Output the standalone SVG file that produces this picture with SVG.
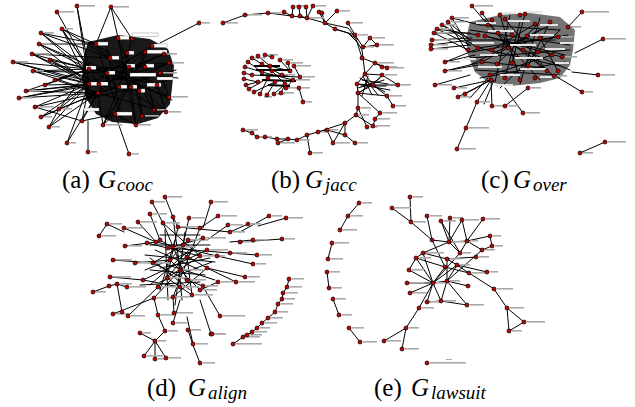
<svg xmlns="http://www.w3.org/2000/svg" width="635" height="407" viewBox="0 0 635 407">
<style>
.e{stroke:#000;stroke-width:1;fill:none;stroke-linecap:round}
.t{stroke:#000;stroke-width:2;fill:none}
.core{fill:#000}
.n circle{fill:#c80000;stroke:#000;stroke-width:.7}
.l rect{fill:#aaa}
.w rect{fill:#fff;stroke:#555;stroke-width:.3}
.wc rect{fill:#e4e4e4}
.cap{font-family:"Liberation Serif","DejaVu Serif",serif;font-size:25px;fill:#000}
.gi{font-style:italic}
.sb{font-family:"Liberation Serif","DejaVu Serif",serif;font-size:19px;font-style:italic;fill:#000}
</style>
<rect width="635" height="407" fill="#fff"/>

<g id="connectors">
<!-- panel a -->
<path class="core" opacity="0.9" d="M88,42 L118,35 L150,39 L168,49 L174,66 L172,88 L170,104 L158,118 L138,124 L112,122 L96,114 L86,98 L82,78 L84,56 Z"/>
<path class="e" d="M57,12L89,69 M77,6L89,69 M77,6L89,84 M111,7L96,44 M111,7L118,38 M111,7L132,39 M199,23L160,43
M62,29L89,69 M62,29L89,84 M62,29L96,44 M62,29L99,84 M62,29L110,58
M41,33L89,69 M41,33L96,44 M41,33L110,58 M41,33L99,84
M39,44L89,69 M39,44L89,84 M39,44L107,73 M39,44L96,44
M32,54L89,69 M32,54L110,58 M32,54L89,84 M32,54L99,84
M13,62L89,69 M13,62L89,84 M13,62L99,84
M33,71L89,69 M33,71L89,84 M33,71L98,93 M33,71L107,73
M50,60L89,69 M50,60L89,84 M50,60L99,84 M55,80L89,69 M55,80L98,93 M45,85L89,84 M45,85L89,69
M26,91L89,84 M26,91L98,93 M26,91L89,69 M26,91L99,84
M19,98L89,84 M19,98L99,84 M19,98L98,93
M35,107L89,84 M35,107L98,93 M35,107L82,121
M41,117L89,84 M41,117L98,93 M41,117L59,109
M49,127L89,84 M49,127L59,109 M49,127L98,93
M59,109L89,84 M59,109L89,69 M59,109L98,93
M67,143L89,84 M67,143L98,93 M88,152L88,121 M129,154L115,114
M82,121L89,84 M82,121L98,93 M82,121L115,114 M103,125L98,93 M103,125L115,114 M103,125L119,87
M136,125L131,87 M136,125L115,114 M142,116L139,91 M154,110L145,67 M166,112L157,85 M169,97L160,73
M89,69L145,67 M89,69L129,67 M89,69L157,85 M89,69L169,63 M89,84L160,73 M89,84L139,91 M99,84L164,54 M107,73L152,46 M110,58L166,112 M127,53L142,116 M129,67L154,110 M145,52L98,93 M96,44L169,97 M118,38L136,125 M132,39L119,87 M152,46L103,125 M164,54L89,84 M169,63L99,84 M160,73L98,93 M157,85L110,58 M119,87L169,63 M131,87L96,44 M139,91L118,38 M98,93L166,112 M115,114L145,52 M89,69L166,112 M89,84L152,46 M107,73L169,97 M127,53L98,93
M96,44L118,110 M105,40L122,120 M82,100L170,80 M84,60L172,100 M89,69L178,78 M98,93L176,70"/>
<!-- panel b -->
<path class="e" d="M223,23L245,15L268,13L292,16L307,18L325,23L335,29L348,33L355,38L362,50L363,58L365,74
M348,33L357,42L362,58 M335,29L355,35L363,47 M325,23L348,28L358,40
M365,74L357,84 M365,74L373,85 M365,74L382,75 M357,84L373,85 M357,84L358,93 M358,93L373,85 M358,93L387,96 M373,85L398,85 M373,85L382,75 M382,75L398,85 M387,96L393,106 M387,96L373,85 M358,93L380,113 M380,113L375,119 M373,126L375,119 M358,93L358,108 M358,108L356,115 M356,115L345,123 M345,123L333,143 M345,123L345,135 M345,135L355,143 M358,108L367,127 M356,115L373,126
M243,130L252,133L257,137L265,137L277,139L288,139L297,140L307,135L318,132L327,130L333,143 M307,135L310,153 M318,132L345,123 M327,130L345,135 M278,143L288,139
M292,16L293,7 M299,7L300,16 M306,7L307,18 M313,6L307,18 M319,12L325,23 M322,13L325,23 M337,11L325,23 M284,12L292,16 M300,16L307,18 M348,23L355,35 M370,38L377,45 M370,38L363,47 M377,45L363,47 M362,58L375,63 M375,63L382,67 M375,63L387,68 M365,74L375,63
M360,78L385,92 M362,80L388,84 M358,88L384,80 M360,92L380,78 M363,76L372,95 M368,76L362,96 M357,84L390,90 M366,80L378,95 M361,86L386,86
M303,102L299,88 M252,58L262,64 M258,56L270,66 M265,55L272,57 M248,62L262,72 M245,67L262,72 M244,73L252,75 M244,79L258,82 M246,85L258,82 M249,89L268,78 M254,92L275,82 M260,94L268,78 M267,95L275,82 M274,94L285,84 M281,93L285,84 M286,88L293,80 M280,60L290,71 M288,63L290,71 M294,66L300,77 M262,64L282,75 M270,66L290,71 M252,75L300,77 M262,72L293,80 M272,71L285,84"/>
<path class="t" d="M256,70L292,70 M260,75L288,76 M262,80L296,81 M268,85L290,86 M254,66L280,66"/>
<!-- panel c -->
<path class="core" opacity="0.55" d="M470,22 L500,15 L530,13 L560,17 L575,30 L573,50 L570,65 L560,78 L540,83 L510,86 L488,82 L475,72 L468,55 L466,38 Z"/>
<path class="e" d="M431,49L470,45 M431,45L470,40 M432,40L472,38 M434,33L470,33 M437,29L470,45 M442,25L478,48 M448,22L470,40 M452,18L480,25 M445,62L475,55 M445,71L478,65 M435,85L470,75 M452,18L468,45 M448,22L466,50 M442,25L468,38 M437,29L478,35 M434,33L468,50 M445,62L480,48 M445,71L482,62
M491,80L454,88 M491,80L458,97 M491,80L465,94 M491,80L477,102 M491,80L492,106 M488,78L470,98 M494,80L484,104 M505,106L528,88 M523,113L505,88 M466,128L477,102 M457,149L466,128
M472,6L488,25 M582,12L568,27 M603,39L575,53 M598,75L572,72 M582,92L557,77 M605,142L580,153
M480,25L560,30 M485,36L565,55 M478,48L560,66 M482,62L545,68 M490,75L552,55 M497,64L538,24 M505,19L545,68 M520,22L505,78 M535,24L492,50 M548,26L482,62 M560,30L500,88 M470,40L555,40 M470,58L570,50 M475,70L560,75 M500,15L520,80 M525,14L512,63 M550,22L528,66 M482,13L508,48 M558,37L478,48 M562,57L485,36 M554,76L523,50 M547,71L498,33 M558,71L540,38
M470,30L570,45 M472,52L568,35 M480,78L565,62 M485,20L540,80 M510,15L495,82 M540,18L520,84 M470,65L540,30 M500,40L570,70"/>
<!-- panel d -->
<path class="e" d="M165,197L173,217 M152,202L163,223 M211,202L203,228 M107,224L124,232 M99,236L107,224 M138,222L156,242 M150,214L160,240 M189,218L183,245 M218,216L200,228 M228,225L207,240 M248,224L230,232 M269,216L240,232 M286,218L258,226 M282,239L240,242 M257,255L230,253 M253,240L230,242 M124,228L156,242 M125,246L156,242 M113,260L153,263 M135,263L170,260 M110,277L143,280 M117,284L127,287 M93,292L109,286 M109,286L117,284 M117,284L122,312 M113,314L154,298 M128,316L158,287 M140,333L155,341 M144,356L155,341 M155,359L155,341 M166,358L155,341 M155,341L165,331 M165,331L158,315 M173,323L180,300 M193,344L187,317 M188,330L193,345 M193,345L200,363 M211,334L200,300 M220,316L205,290 M203,286L187,280 M218,282L200,290 M236,282L207,268 M245,277L207,268 M253,264L217,256 M174,313L173,297 M158,315L154,298
M163,223L187,280 M178,227L167,278 M173,217L180,270 M160,240L207,268 M147,243L200,256 M156,242L217,256 M168,248L230,253 M173,247L203,238 M183,245L153,263 M188,240L170,260 M200,228L173,297 M203,238L158,287 M207,250L143,280 M187,257L192,295 M170,260L200,290 M180,270L154,298 M153,263L187,280 M200,256L167,278 M207,268L173,297 M163,223L200,256 M178,227L230,232 M150,245L210,245 M145,255L215,262 M150,270L205,275 M140,285L200,282 M160,235L200,235 M143,280L180,287 M167,278L192,295 M173,217L178,227 M165,230L168,300 M185,232L175,305
M155,250L200,270 M160,268L210,258 M150,258L190,290 M175,240L160,290 M195,245L150,285 M168,265L215,280 M145,270L195,250 M178,255L182,300 M160,282L212,262
M289,279L287,287L283,293L282,299L278,304L275,312L268,318L262,323L257,328L252,332L247,335L243,337L233,344"/>
<!-- panel e -->
<path class="e" d="M359,203L348,216L340,230 M332,243L328,259 M327,272L329,288 M333,299L339,315 M349,328L360,342
M410,197L411,222 M392,208L411,222 M411,222L432,240 M427,216L432,240 M432,240L449,242 M441,221L449,242 M450,218L449,242 M449,242L460,253 M462,220L449,242 M483,219L467,241 M467,241L460,253 M467,241L490,236 M490,236L492,246 M492,246L482,250 M467,241L482,250 M449,242L467,241 M423,253L416,258 M416,258L409,270 M423,253L447,259 M416,258L445,267 M432,240L445,267 M447,259L476,257 M447,259L457,265 M457,265L469,273 M457,265L487,272 M445,267L469,273 M433,283L416,258 M433,283L409,270 M433,283L423,253 M433,283L445,267 M433,283L447,281 M433,283L427,302 M433,283L441,301 M433,283L407,283 M433,283L410,293 M433,283L457,265 M447,281L447,259 M447,281L441,301 M447,281L467,305 M447,281L457,265 M427,302L441,301 M441,301L467,305 M433,283L419,308 M419,308L406,328 M406,328L384,341 M406,328L402,349 M460,253L433,283 M482,250L447,281 M469,273L494,289 M494,289L507,308 M507,308L524,322 M507,308L509,331 M524,322L509,331 M468,286L447,281 M423,253L449,242 M441,221L460,253 M462,220L467,241"/>
</g>

<g id="panel-a">
<g class="w">
<rect x="86" y="66" width="10" height="3.5"/><rect x="107" y="71" width="8" height="3.5"/><rect x="110" y="56" width="9" height="3.5"/><rect x="128" y="51" width="6" height="3.5"/><rect x="127" y="64" width="8" height="3.5"/><rect x="146" y="64" width="8" height="3.5"/><rect x="147" y="50" width="20" height="3.5"/><rect x="130" y="73" width="26" height="3.5"/><rect x="90" y="82" width="7" height="3.5"/><rect x="100" y="82" width="8" height="3.5"/><rect x="120" y="85" width="7" height="3.5"/><rect x="132" y="85" width="5" height="3.5"/><rect x="140" y="89" width="5" height="3.5"/><rect x="116" y="112" width="16" height="3.5"/><rect x="147" y="83" width="14" height="3.5"/><rect x="157" y="77" width="16" height="3"/><rect x="96" y="42" width="12" height="3.5"/><rect x="118" y="36" width="11" height="3.5"/><rect x="132" y="33" width="26" height="3.5"/><rect x="151" y="44" width="16" height="3.5"/><rect x="84" y="108" width="15" height="3"/>
</g>
<g class="l">
<rect x="60" y="11" width="14" height="1.6"/><rect x="80" y="5" width="15" height="1.6"/><rect x="114" y="6" width="15" height="1.6"/><rect x="202" y="22" width="8" height="1.6"/><rect x="65" y="28" width="8" height="1.6"/><rect x="44" y="32" width="10" height="1.6"/><rect x="42" y="43" width="9" height="1.6"/><rect x="35" y="53" width="14" height="1.6"/><rect x="16" y="61" width="12" height="1.6"/><rect x="36" y="70" width="8" height="1.6"/><rect x="29" y="90" width="12" height="1.6"/><rect x="22" y="97" width="10" height="1.6"/><rect x="38" y="106" width="16" height="1.6"/><rect x="44" y="116" width="8" height="1.6"/><rect x="52" y="126" width="8" height="1.6"/><rect x="62" y="108" width="10" height="1.6"/><rect x="70" y="142" width="6" height="1.6"/><rect x="91" y="151" width="6" height="1.6"/><rect x="132" y="153" width="7" height="1.6"/><rect x="139" y="124" width="12" height="1.6"/><rect x="145" y="115" width="14" height="1.6"/><rect x="157" y="109" width="10" height="1.6"/><rect x="169" y="111" width="12" height="1.6"/><rect x="172" y="96" width="16" height="1.6"/><rect x="163" y="72" width="14" height="1.6"/><rect x="172" y="62" width="12" height="1.6"/><rect x="167" y="53" width="10" height="1.6"/><rect x="106" y="124" width="16" height="1.6"/>
</g>
<g class="n">
<circle cx="89" cy="69" r="2"/><circle cx="107" cy="73" r="2"/><circle cx="110" cy="58" r="2"/><circle cx="127" cy="53" r="2"/><circle cx="129" cy="67" r="2"/><circle cx="145" cy="67" r="2"/><circle cx="145" cy="52" r="2"/><circle cx="89" cy="84" r="2"/><circle cx="99" cy="84" r="2"/><circle cx="119" cy="87" r="2"/><circle cx="131" cy="87" r="2"/><circle cx="139" cy="91" r="2"/><circle cx="98" cy="93" r="2"/><circle cx="115" cy="114" r="2"/><circle cx="132" cy="39" r="2"/><circle cx="96" cy="44" r="2"/><circle cx="152" cy="46" r="2"/><circle cx="164" cy="54" r="2"/><circle cx="169" cy="63" r="2"/><circle cx="160" cy="73" r="2"/><circle cx="157" cy="85" r="2"/><circle cx="154" cy="110" r="2"/><circle cx="166" cy="112" r="2"/><circle cx="142" cy="116" r="2"/><circle cx="169" cy="97" r="2"/><circle cx="136" cy="125" r="2"/><circle cx="103" cy="125" r="2"/><circle cx="82" cy="121" r="2"/><circle cx="118" cy="38" r="2"/>
<circle cx="57" cy="12" r="2"/><circle cx="77" cy="6" r="2"/><circle cx="111" cy="7" r="2"/><circle cx="199" cy="23" r="2"/><circle cx="62" cy="29" r="2"/><circle cx="41" cy="33" r="2"/><circle cx="39" cy="44" r="2"/><circle cx="32" cy="54" r="2"/><circle cx="13" cy="62" r="2"/><circle cx="33" cy="71" r="2"/><circle cx="26" cy="91" r="2"/><circle cx="19" cy="98" r="2"/><circle cx="35" cy="107" r="2"/><circle cx="41" cy="117" r="2"/><circle cx="49" cy="127" r="2"/><circle cx="59" cy="109" r="2"/><circle cx="67" cy="143" r="2"/><circle cx="88" cy="152" r="2"/><circle cx="129" cy="154" r="2"/><circle cx="50" cy="60" r="2"/><circle cx="55" cy="80" r="2"/><circle cx="45" cy="85" r="2"/>
</g>
</g>

<g id="panel-b">
<g class="l">
<rect x="226" y="22" width="12" height="1.6"/><rect x="248" y="14" width="14" height="1.6"/><rect x="271" y="12" width="10" height="1.6"/><rect x="296" y="5" width="8" height="1.6"/><rect x="316" y="5" width="10" height="1.6"/><rect x="340" y="10" width="10" height="1.6"/><rect x="310" y="17" width="14" height="1.6"/><rect x="351" y="22" width="12" height="1.6"/><rect x="358" y="34" width="10" height="1.6"/><rect x="373" y="37" width="12" height="1.6"/><rect x="380" y="44" width="14" height="1.6"/><rect x="366" y="46" width="8" height="1.6"/><rect x="378" y="62" width="16" height="1.6"/><rect x="385" y="66" width="12" height="1.6"/><rect x="390" y="67" width="14" height="1.6"/><rect x="401" y="84" width="10" height="1.6"/><rect x="390" y="95" width="12" height="1.6"/><rect x="396" y="105" width="10" height="1.6"/><rect x="383" y="112" width="14" height="1.6"/><rect x="378" y="118" width="12" height="1.6"/><rect x="376" y="125" width="14" height="1.6"/><rect x="370" y="126" width="8" height="1.6"/><rect x="358" y="142" width="10" height="1.6"/><rect x="336" y="142" width="14" height="1.6"/><rect x="313" y="152" width="10" height="1.6"/><rect x="246" y="129" width="12" height="1.6"/><rect x="260" y="136" width="12" height="1.6"/><rect x="281" y="142" width="14" height="1.6"/><rect x="300" y="139" width="10" height="1.6"/><rect x="321" y="131" width="8" height="1.6"/><rect x="330" y="129" width="8" height="1.6"/><rect x="385" y="74" width="12" height="1.6"/><rect x="361" y="107" width="10" height="1.6"/><rect x="359" y="114" width="10" height="1.6"/>
<rect x="255" y="57" width="10" height="1.6"/><rect x="268" y="54" width="10" height="1.6"/><rect x="283" y="59" width="10" height="1.6"/><rect x="291" y="62" width="12" height="1.6"/><rect x="297" y="65" width="14" height="1.6"/><rect x="303" y="76" width="12" height="1.6"/><rect x="296" y="79" width="14" height="1.6"/><rect x="288" y="87" width="12" height="1.6"/><rect x="284" y="92" width="10" height="1.6"/><rect x="277" y="93" width="8" height="1.6"/><rect x="302" y="87" width="8" height="1.6"/><rect x="306" y="101" width="6" height="1.6"/><rect x="285" y="74" width="10" height="1.6"/><rect x="264" y="96" width="8" height="1.6"/>
</g>
<g class="n">
<circle cx="223" cy="23" r="2"/><circle cx="245" cy="15" r="2"/><circle cx="268" cy="13" r="2"/><circle cx="284" cy="12" r="2"/><circle cx="293" cy="7" r="2"/><circle cx="299" cy="7" r="2"/><circle cx="306" cy="7" r="2"/><circle cx="313" cy="6" r="2"/><circle cx="319" cy="12" r="2"/><circle cx="292" cy="16" r="2"/><circle cx="300" cy="16" r="2"/><circle cx="307" cy="18" r="2"/><circle cx="322" cy="13" r="2"/><circle cx="337" cy="11" r="2"/><circle cx="325" cy="23" r="2"/><circle cx="335" cy="29" r="2"/><circle cx="348" cy="23" r="2"/><circle cx="355" cy="35" r="2"/><circle cx="370" cy="38" r="2"/><circle cx="377" cy="45" r="2"/><circle cx="363" cy="47" r="2"/><circle cx="362" cy="58" r="2"/><circle cx="375" cy="63" r="2"/><circle cx="382" cy="67" r="2"/><circle cx="387" cy="68" r="2"/><circle cx="365" cy="74" r="2"/><circle cx="357" cy="84" r="2"/><circle cx="358" cy="93" r="2"/><circle cx="373" cy="85" r="2"/><circle cx="382" cy="75" r="2"/><circle cx="398" cy="85" r="2"/><circle cx="387" cy="96" r="2"/><circle cx="393" cy="106" r="2"/><circle cx="380" cy="113" r="2"/><circle cx="375" cy="119" r="2"/><circle cx="373" cy="126" r="2"/><circle cx="358" cy="108" r="2"/><circle cx="356" cy="115" r="2"/><circle cx="345" cy="123" r="2"/><circle cx="367" cy="127" r="2"/><circle cx="355" cy="143" r="2"/><circle cx="345" cy="135" r="2"/><circle cx="333" cy="143" r="2"/><circle cx="327" cy="130" r="2"/><circle cx="318" cy="132" r="2"/><circle cx="307" cy="135" r="2"/><circle cx="310" cy="153" r="2"/><circle cx="297" cy="140" r="2"/><circle cx="288" cy="139" r="2"/><circle cx="278" cy="143" r="2"/><circle cx="277" cy="139" r="2"/><circle cx="265" cy="137" r="2"/><circle cx="257" cy="137" r="2"/><circle cx="252" cy="133" r="2"/><circle cx="243" cy="130" r="2"/>
<circle cx="252" cy="58" r="2"/><circle cx="258" cy="56" r="2"/><circle cx="265" cy="55" r="2"/><circle cx="272" cy="57" r="2"/><circle cx="248" cy="62" r="2"/><circle cx="245" cy="67" r="2"/><circle cx="244" cy="73" r="2"/><circle cx="244" cy="79" r="2"/><circle cx="246" cy="85" r="2"/><circle cx="249" cy="89" r="2"/><circle cx="254" cy="92" r="2"/><circle cx="260" cy="94" r="2"/><circle cx="267" cy="95" r="2"/><circle cx="274" cy="94" r="2"/><circle cx="281" cy="93" r="2"/><circle cx="286" cy="88" r="2"/><circle cx="280" cy="60" r="2"/><circle cx="288" cy="63" r="2"/><circle cx="294" cy="66" r="2"/><circle cx="262" cy="64" r="2"/><circle cx="270" cy="66" r="2"/><circle cx="262" cy="72" r="2"/><circle cx="272" cy="71" r="2"/><circle cx="282" cy="75" r="2"/><circle cx="290" cy="71" r="2"/><circle cx="275" cy="82" r="2"/><circle cx="285" cy="84" r="2"/><circle cx="258" cy="82" r="2"/><circle cx="293" cy="80" r="2"/><circle cx="300" cy="77" r="2"/><circle cx="268" cy="78" r="2"/><circle cx="252" cy="75" r="2"/><circle cx="303" cy="102" r="2"/><circle cx="299" cy="88" r="2"/>
</g>
</g>

<g id="panel-c">
<g class="wc">
<rect x="476" y="22" width="20" height="2"/><rect x="508" y="20" width="22" height="2"/><rect x="540" y="24" width="18" height="2"/><rect x="488" y="30" width="26" height="2"/><rect x="530" y="34" width="24" height="2"/><rect x="472" y="42" width="22" height="2"/><rect x="510" y="44" width="26" height="2"/><rect x="545" y="48" width="20" height="2"/><rect x="480" y="54" width="18" height="2"/><rect x="515" y="57" width="28" height="2"/><rect x="478" y="66" width="24" height="2"/><rect x="520" y="68" width="26" height="2"/><rect x="500" y="74" width="20" height="2"/><rect x="540" y="76" width="16" height="2"/><rect x="495" y="84" width="18" height="2"/><rect x="555" y="62" width="14" height="2"/><rect x="498" y="12" width="18" height="2"/><rect x="525" y="11" width="18" height="2"/><rect x="462" y="58" width="14" height="2"/><rect x="560" y="42" width="14" height="2"/>
</g>
<g class="l">
<rect x="475" y="5" width="18" height="1.6"/><rect x="585" y="11" width="24" height="1.6"/><rect x="606" y="38" width="20" height="1.6"/><rect x="601" y="74" width="14" height="1.6"/><rect x="585" y="91" width="8" height="1.6"/><rect x="526" y="112" width="14" height="1.6"/><rect x="469" y="127" width="20" height="1.6"/><rect x="460" y="148" width="16" height="1.6"/><rect x="608" y="141" width="18" height="1.6"/><rect x="583" y="152" width="10" height="1.6"/><rect x="438" y="84" width="14" height="1.6"/><rect x="434" y="48" width="14" height="1.6"/><rect x="434" y="44" width="14" height="1.6"/><rect x="435" y="39" width="14" height="1.6"/><rect x="437" y="32" width="12" height="1.6"/><rect x="440" y="28" width="12" height="1.6"/><rect x="445" y="24" width="12" height="1.6"/><rect x="451" y="21" width="14" height="1.6"/><rect x="455" y="17" width="14" height="1.6"/><rect x="448" y="61" width="12" height="1.6"/><rect x="448" y="70" width="14" height="1.6"/><rect x="457" y="87" width="10" height="1.6"/><rect x="461" y="96" width="10" height="1.6"/><rect x="480" y="101" width="10" height="1.6"/><rect x="495" y="105" width="12" height="1.6"/><rect x="508" y="105" width="10" height="1.6"/><rect x="531" y="87" width="10" height="1.6"/><rect x="557" y="75" width="10" height="1.6"/><rect x="565" y="56" width="12" height="1.6"/><rect x="561" y="36" width="12" height="1.6"/><rect x="571" y="26" width="10" height="1.6"/>
</g>
<g class="n">
<circle cx="472" cy="6" r="2"/><circle cx="582" cy="12" r="2"/><circle cx="603" cy="39" r="2"/><circle cx="598" cy="75" r="2"/><circle cx="582" cy="92" r="2"/><circle cx="523" cy="113" r="2"/><circle cx="466" cy="128" r="2"/><circle cx="457" cy="149" r="2"/><circle cx="605" cy="142" r="2"/><circle cx="580" cy="153" r="2"/><circle cx="435" cy="85" r="2"/><circle cx="431" cy="49" r="2"/><circle cx="431" cy="45" r="2"/><circle cx="432" cy="40" r="2"/><circle cx="434" cy="33" r="2"/><circle cx="437" cy="29" r="2"/><circle cx="442" cy="25" r="2"/><circle cx="448" cy="22" r="2"/><circle cx="452" cy="18" r="2"/><circle cx="445" cy="62" r="2"/><circle cx="445" cy="71" r="2"/><circle cx="454" cy="88" r="2"/><circle cx="458" cy="97" r="2"/><circle cx="465" cy="94" r="2"/><circle cx="477" cy="102" r="2"/><circle cx="492" cy="106" r="2"/><circle cx="505" cy="106" r="2"/><circle cx="528" cy="88" r="2"/><circle cx="554" cy="76" r="2"/><circle cx="558" cy="71" r="2"/><circle cx="547" cy="71" r="2"/><circle cx="562" cy="57" r="2"/><circle cx="558" cy="37" r="2"/><circle cx="568" cy="27" r="2"/><circle cx="550" cy="22" r="2"/><circle cx="525" cy="14" r="2"/><circle cx="500" cy="15" r="2"/><circle cx="488" cy="25" r="2"/><circle cx="478" cy="35" r="2"/><circle cx="468" cy="50" r="2"/><circle cx="482" cy="13" r="2"/><circle cx="520" cy="15" r="2"/>
<circle cx="492" cy="20" r="2"/><circle cx="505" cy="19" r="2"/><circle cx="535" cy="24" r="2"/><circle cx="485" cy="36" r="2"/><circle cx="498" cy="33" r="2"/><circle cx="512" cy="35" r="2"/><circle cx="527" cy="36" r="2"/><circle cx="540" cy="38" r="2"/><circle cx="478" cy="48" r="2"/><circle cx="492" cy="50" r="2"/><circle cx="508" cy="48" r="2"/><circle cx="523" cy="50" r="2"/><circle cx="538" cy="52" r="2"/><circle cx="552" cy="55" r="2"/><circle cx="482" cy="62" r="2"/><circle cx="497" cy="64" r="2"/><circle cx="512" cy="63" r="2"/><circle cx="528" cy="66" r="2"/><circle cx="490" cy="75" r="2"/><circle cx="505" cy="78" r="2"/><circle cx="520" cy="80" r="2"/><circle cx="535" cy="78" r="2"/><circle cx="491" cy="80" r="2"/>
</g>
</g>

<g id="panel-d">
<g class="l">
<rect x="168" y="196" width="14" height="1.6"/><rect x="155" y="201" width="10" height="1.6"/><rect x="214" y="201" width="14" height="1.6"/><rect x="110" y="223" width="12" height="1.6"/><rect x="102" y="235" width="14" height="1.6"/><rect x="141" y="221" width="16" height="1.6"/><rect x="153" y="213" width="14" height="1.6"/><rect x="192" y="217" width="14" height="1.6"/><rect x="221" y="215" width="16" height="1.6"/><rect x="231" y="224" width="12" height="1.6"/><rect x="251" y="223" width="10" height="1.6"/><rect x="272" y="215" width="10" height="1.6"/><rect x="289" y="217" width="14" height="1.6"/><rect x="285" y="238" width="10" height="1.6"/><rect x="260" y="254" width="12" height="1.6"/><rect x="256" y="239" width="12" height="1.6"/><rect x="127" y="227" width="16" height="1.6"/><rect x="128" y="245" width="14" height="1.6"/><rect x="116" y="259" width="16" height="1.6"/><rect x="138" y="262" width="14" height="1.6"/><rect x="113" y="276" width="18" height="1.6"/><rect x="120" y="283" width="12" height="1.6"/><rect x="96" y="291" width="10" height="1.6"/><rect x="130" y="286" width="16" height="1.6"/><rect x="116" y="313" width="14" height="1.6"/><rect x="131" y="315" width="14" height="1.6"/><rect x="143" y="332" width="8" height="1.6"/><rect x="158" y="340" width="8" height="1.6"/><rect x="168" y="330" width="10" height="1.6"/><rect x="176" y="322" width="12" height="1.6"/><rect x="196" y="343" width="12" height="1.6"/><rect x="214" y="333" width="12" height="1.6"/><rect x="223" y="315" width="22" height="1.6"/><rect x="206" y="285" width="12" height="1.6"/><rect x="221" y="281" width="12" height="1.6"/><rect x="239" y="281" width="16" height="1.6"/><rect x="248" y="276" width="12" height="1.6"/><rect x="256" y="263" width="10" height="1.6"/><rect x="147" y="355" width="16" height="1.6"/><rect x="158" y="358" width="6" height="1.6"/><rect x="169" y="357" width="12" height="1.6"/><rect x="203" y="362" width="12" height="1.6"/><rect x="191" y="329" width="10" height="1.6"/><rect x="215" y="333" width="10" height="1.6"/><rect x="236" y="343" width="26" height="1.6"/><rect x="246" y="336" width="14" height="1.6"/><rect x="250" y="334" width="12" height="1.6"/><rect x="255" y="331" width="12" height="1.6"/><rect x="260" y="327" width="10" height="1.6"/><rect x="265" y="322" width="12" height="1.6"/><rect x="271" y="317" width="12" height="1.6"/><rect x="278" y="311" width="10" height="1.6"/><rect x="281" y="303" width="12" height="1.6"/><rect x="285" y="298" width="10" height="1.6"/><rect x="286" y="292" width="12" height="1.6"/><rect x="290" y="286" width="12" height="1.6"/><rect x="292" y="278" width="12" height="1.6"/>
<rect x="176" y="246" width="20" height="1.6"/><rect x="190" y="239" width="18" height="1.6"/><rect x="206" y="237" width="20" height="1.6"/><rect x="203" y="255" width="22" height="1.6"/><rect x="183" y="269" width="20" height="1.6"/><rect x="170" y="277" width="18" height="1.6"/><rect x="190" y="279" width="16" height="1.6"/><rect x="156" y="262" width="14" height="1.6"/><rect x="161" y="286" width="18" height="1.6"/><rect x="183" y="286" width="16" height="1.6"/><rect x="203" y="289" width="14" height="1.6"/><rect x="157" y="297" width="16" height="1.6"/><rect x="176" y="296" width="14" height="1.6"/><rect x="195" y="294" width="18" height="1.6"/><rect x="177" y="312" width="16" height="1.6"/><rect x="161" y="314" width="12" height="1.6"/><rect x="210" y="249" width="18" height="1.6"/><rect x="233" y="252" width="14" height="1.6"/><rect x="233" y="231" width="12" height="1.6"/><rect x="243" y="241" width="12" height="1.6"/><rect x="181" y="226" width="18" height="1.6"/><rect x="166" y="222" width="14" height="1.6"/>
</g>
<g class="n">
<circle cx="165" cy="197" r="2"/><circle cx="152" cy="202" r="2"/><circle cx="211" cy="202" r="2"/><circle cx="107" cy="224" r="2"/><circle cx="99" cy="236" r="2"/><circle cx="138" cy="222" r="2"/><circle cx="150" cy="214" r="2"/><circle cx="189" cy="218" r="2"/><circle cx="218" cy="216" r="2"/><circle cx="228" cy="225" r="2"/><circle cx="248" cy="224" r="2"/><circle cx="269" cy="216" r="2"/><circle cx="286" cy="218" r="2"/><circle cx="282" cy="239" r="2"/><circle cx="257" cy="255" r="2"/><circle cx="253" cy="240" r="2"/><circle cx="124" cy="228" r="2"/><circle cx="125" cy="246" r="2"/><circle cx="113" cy="260" r="2"/><circle cx="135" cy="263" r="2"/><circle cx="110" cy="277" r="2"/><circle cx="117" cy="284" r="2"/><circle cx="93" cy="292" r="2"/><circle cx="109" cy="286" r="2"/><circle cx="127" cy="287" r="2"/><circle cx="113" cy="314" r="2"/><circle cx="128" cy="316" r="2"/><circle cx="140" cy="333" r="2"/><circle cx="155" cy="341" r="2"/><circle cx="165" cy="331" r="2"/><circle cx="173" cy="323" r="2"/><circle cx="193" cy="344" r="2"/><circle cx="211" cy="334" r="2"/><circle cx="220" cy="316" r="2"/><circle cx="203" cy="286" r="2"/><circle cx="218" cy="282" r="2"/><circle cx="236" cy="282" r="2"/><circle cx="245" cy="277" r="2"/><circle cx="253" cy="264" r="2"/><circle cx="174" cy="313" r="2"/><circle cx="158" cy="315" r="2"/><circle cx="154" cy="298" r="2"/><circle cx="173" cy="297" r="2"/><circle cx="192" cy="295" r="2"/><circle cx="180" cy="270" r="2"/><circle cx="207" cy="268" r="2"/><circle cx="217" cy="256" r="2"/><circle cx="230" cy="253" r="2"/><circle cx="200" cy="256" r="2"/><circle cx="187" cy="257" r="2"/><circle cx="170" cy="260" r="2"/><circle cx="153" cy="263" r="2"/><circle cx="147" cy="243" r="2"/><circle cx="160" cy="240" r="2"/><circle cx="173" cy="247" r="2"/><circle cx="203" cy="238" r="2"/><circle cx="230" cy="232" r="2"/><circle cx="240" cy="242" r="2"/><circle cx="188" cy="240" r="2"/><circle cx="183" cy="245" r="2"/><circle cx="200" cy="228" r="2"/><circle cx="178" cy="227" r="2"/><circle cx="163" cy="223" r="2"/><circle cx="156" cy="242" r="2"/><circle cx="168" cy="248" r="2"/><circle cx="207" cy="250" r="2"/><circle cx="167" cy="278" r="2"/><circle cx="187" cy="280" r="2"/><circle cx="143" cy="280" r="2"/><circle cx="158" cy="287" r="2"/><circle cx="180" cy="287" r="2"/><circle cx="200" cy="290" r="2"/><circle cx="144" cy="356" r="2"/><circle cx="155" cy="359" r="2"/><circle cx="166" cy="358" r="2"/><circle cx="200" cy="363" r="2"/><circle cx="188" cy="330" r="2"/><circle cx="212" cy="334" r="2"/><circle cx="173" cy="217" r="2"/><circle cx="122" cy="312" r="2"/>
<circle cx="289" cy="279" r="2"/><circle cx="287" cy="287" r="2"/><circle cx="283" cy="293" r="2"/><circle cx="282" cy="299" r="2"/><circle cx="278" cy="304" r="2"/><circle cx="275" cy="312" r="2"/><circle cx="268" cy="318" r="2"/><circle cx="262" cy="323" r="2"/><circle cx="257" cy="328" r="2"/><circle cx="252" cy="332" r="2"/><circle cx="247" cy="335" r="2"/><circle cx="243" cy="337" r="2"/><circle cx="233" cy="344" r="2"/>
</g>
</g>

<g id="panel-e">
<g class="l">
<rect x="362" y="202" width="10" height="1.6"/><rect x="351" y="215" width="12" height="1.6"/><rect x="343" y="229" width="14" height="1.6"/><rect x="335" y="242" width="14" height="1.6"/><rect x="331" y="258" width="12" height="1.6"/><rect x="330" y="271" width="10" height="1.6"/><rect x="332" y="287" width="10" height="1.6"/><rect x="336" y="298" width="10" height="1.6"/><rect x="342" y="314" width="10" height="1.6"/><rect x="352" y="327" width="12" height="1.6"/><rect x="363" y="341" width="14" height="1.6"/>
<rect x="413" y="196" width="10" height="1.6"/><rect x="395" y="207" width="16" height="1.6"/><rect x="414" y="221" width="12" height="1.6"/><rect x="430" y="215" width="12" height="1.6"/><rect x="444" y="220" width="12" height="1.6"/><rect x="453" y="217" width="10" height="1.6"/><rect x="465" y="219" width="14" height="1.6"/><rect x="486" y="218" width="14" height="1.6"/><rect x="452" y="241" width="18" height="1.6"/><rect x="470" y="240" width="8" height="1.6"/><rect x="493" y="235" width="8" height="1.6"/><rect x="495" y="245" width="8" height="1.6"/><rect x="485" y="249" width="10" height="1.6"/><rect x="426" y="252" width="18" height="1.6"/><rect x="419" y="257" width="12" height="1.6"/><rect x="412" y="269" width="12" height="1.6"/><rect x="450" y="258" width="10" height="1.6"/><rect x="460" y="264" width="10" height="1.6"/><rect x="472" y="272" width="16" height="1.6"/><rect x="490" y="271" width="8" height="1.6"/><rect x="436" y="282" width="12" height="1.6"/><rect x="450" y="280" width="10" height="1.6"/><rect x="410" y="282" width="14" height="1.6"/><rect x="413" y="292" width="14" height="1.6"/><rect x="430" y="301" width="10" height="1.6"/><rect x="444" y="300" width="12" height="1.6"/><rect x="470" y="304" width="14" height="1.6"/><rect x="422" y="307" width="12" height="1.6"/><rect x="409" y="327" width="10" height="1.6"/><rect x="387" y="340" width="14" height="1.6"/><rect x="405" y="348" width="14" height="1.6"/><rect x="497" y="288" width="16" height="1.6"/><rect x="510" y="307" width="14" height="1.6"/><rect x="527" y="321" width="18" height="1.6"/><rect x="512" y="330" width="10" height="1.6"/><rect x="430" y="362" width="36" height="1.6"/><rect x="446" y="359" width="6" height="1"/><rect x="479" y="256" width="10" height="1.6"/><rect x="463" y="252" width="8" height="1.6"/>
</g>
<g class="n">
<circle cx="359" cy="203" r="2"/><circle cx="348" cy="216" r="2"/><circle cx="340" cy="230" r="2"/><circle cx="332" cy="243" r="2"/><circle cx="328" cy="259" r="2"/><circle cx="327" cy="272" r="2"/><circle cx="329" cy="288" r="2"/><circle cx="333" cy="299" r="2"/><circle cx="339" cy="315" r="2"/><circle cx="349" cy="328" r="2"/><circle cx="360" cy="342" r="2"/>
<circle cx="410" cy="197" r="2"/><circle cx="392" cy="208" r="2"/><circle cx="411" cy="222" r="2"/><circle cx="427" cy="216" r="2"/><circle cx="441" cy="221" r="2"/><circle cx="450" cy="218" r="2"/><circle cx="462" cy="220" r="2"/><circle cx="483" cy="219" r="2"/><circle cx="432" cy="240" r="2"/><circle cx="449" cy="242" r="2"/><circle cx="467" cy="241" r="2"/><circle cx="490" cy="236" r="2"/><circle cx="492" cy="246" r="2"/><circle cx="482" cy="250" r="2"/><circle cx="460" cy="253" r="2"/><circle cx="423" cy="253" r="2"/><circle cx="416" cy="258" r="2"/><circle cx="409" cy="270" r="2"/><circle cx="447" cy="259" r="2"/><circle cx="476" cy="257" r="2"/><circle cx="457" cy="265" r="2"/><circle cx="445" cy="267" r="2"/><circle cx="469" cy="273" r="2"/><circle cx="487" cy="272" r="2"/><circle cx="433" cy="283" r="2"/><circle cx="447" cy="281" r="2"/><circle cx="407" cy="283" r="2"/><circle cx="410" cy="293" r="2"/><circle cx="427" cy="302" r="2"/><circle cx="441" cy="301" r="2"/><circle cx="468" cy="286" r="2"/><circle cx="467" cy="305" r="2"/><circle cx="419" cy="308" r="2"/><circle cx="406" cy="328" r="2"/><circle cx="384" cy="341" r="2"/><circle cx="402" cy="349" r="2"/><circle cx="494" cy="289" r="2"/><circle cx="507" cy="308" r="2"/><circle cx="524" cy="322" r="2"/><circle cx="509" cy="331" r="2"/><circle cx="427" cy="363" r="2"/>
</g>
</g>

<g id="captions">
<text class="cap" x="62" y="188">(a)</text><text class="cap gi" x="98" y="188">G</text><text class="sb" x="117" y="191">cooc</text>
<text class="cap" x="271" y="188">(b)</text><text class="cap gi" x="305" y="188">G</text><text class="sb" x="325" y="191">jacc</text>
<text class="cap" x="481" y="188">(c)</text><text class="cap gi" x="513" y="188">G</text><text class="sb" x="533" y="191">over</text>
<text class="cap" x="147" y="396">(d)</text><text class="cap gi" x="188" y="396">G</text><text class="sb" x="208" y="399">align</text>
<text class="cap" x="374" y="396">(e)</text><text class="cap gi" x="411" y="396">G</text><text class="sb" x="431" y="399">lawsuit</text>
</g>
</svg>
